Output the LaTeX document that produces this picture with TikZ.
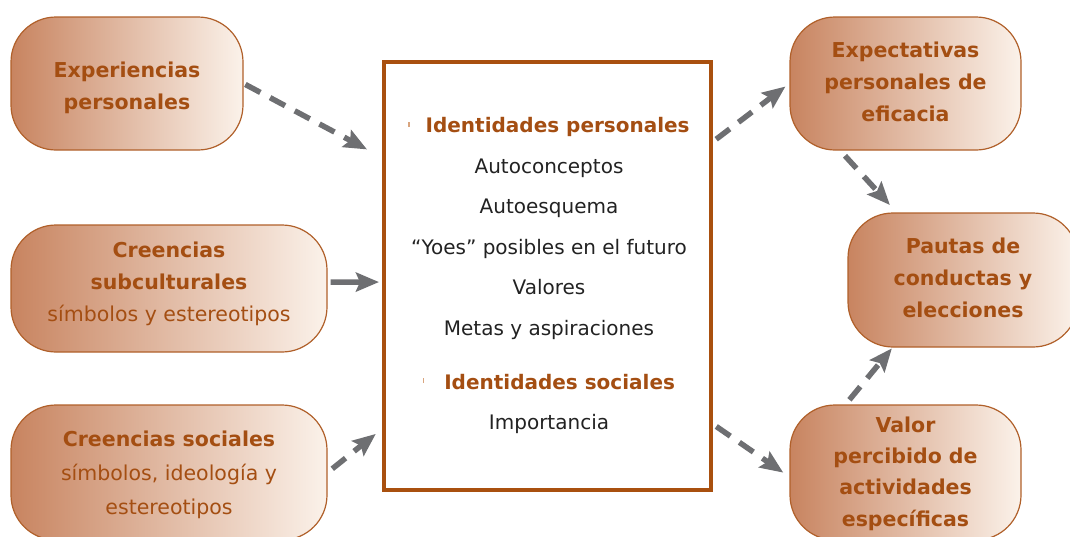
\documentclass[tikz,border=0pt]{standalone}
\usepackage{fontspec}
\setmainfont{DejaVu Sans}
\usetikzlibrary{arrows.meta,calc}
\definecolor{brtext}{HTML}{A44E12}
\definecolor{brframe}{HTML}{A9500F}
\definecolor{brborder}{HTML}{B0602A}
\definecolor{gradL}{HTML}{C88460}
\definecolor{gradR}{HTML}{FBF2EA}
\definecolor{arrowgray}{HTML}{6E6F72}
\definecolor{marklight}{HTML}{D9A57F}
\definecolor{bodytext}{HTML}{222222}
\tikzset{
  caja/.style={draw=brborder, line width=1.2pt, left color=gradL, right color=gradR,
    rounded corners=45pt, inner sep=0pt},
  cajatexto/.style={align=center, inner sep=0pt, text=brtext,
    font=\fontsize{20.5}{32}\selectfont},
  flecha/.style={draw=arrowgray, line width=5.5pt, dash pattern=on 17pt off 11pt,
    -{Stealth[length=23pt,width=19pt,inset=4pt]}},
  flechasolida/.style={draw=arrowgray, line width=5.5pt,
    -{Stealth[length=23pt,width=19pt,inset=4pt]}}
}
\newcommand{\tickmark}{\textcolor{marklight}{\rule[6pt]{1.3pt}{5pt}}}
\begin{document}
\begin{tikzpicture}[x=1pt,y=-1pt]
\useasboundingbox (0,0) rectangle (1070,536);
\clip (0,0) rectangle (1070,536);
% left boxes
\node[caja, minimum width=232pt, minimum height=133pt] (exp) at (127,83.5) {};
\node[cajatexto] (exp-t) at ($(exp.center)+(0,4)$)
  {\textbf{Experiencias}\\\textbf{personales}};
\node[caja, minimum width=316pt, minimum height=127pt] (sub) at (169,288.5) {};
\node[cajatexto] (sub-t) at ($(sub.center)+(0,-4.5)$)
  {\textbf{Creencias}\\\textbf{subculturales}\\símbolos y estereotipos};
\node[caja, minimum width=316pt, minimum height=135pt] (soc) at (169,472.5) {};
\node[cajatexto, font=\fontsize{20.5}{34}\selectfont] (soc-t) at ($(soc.center)+(0,2)$)
  {\textbf{Creencias sociales}\\símbolos, ideología y\\estereotipos};
% central box
\node[draw=brframe, line width=4pt, minimum width=327pt, minimum height=428pt, inner sep=0pt] (centro) at (547.5,276) {};
\node[align=center, font=\fontsize{20}{40.5}\selectfont, text=bodytext, inner sep=0pt] (lista) at (549,275.5)
  {\tickmark\hspace{16pt}\textcolor{brtext}{\textbf{Identidades personales}}\\
   Autoconceptos\\
   Autoesquema\\
   “Yoes” posibles en el futuro\\
   Valores\\
   Metas y aspiraciones\\[13.5pt]
   \tickmark\hspace{20pt}\textcolor{brtext}{\textbf{Identidades sociales}}\\
   Importancia};
% right boxes
\node[caja, minimum width=231pt, minimum height=133pt] (expect) at (905.5,83.5) {};
\node[cajatexto] (expect-t) at ($(expect.center)+(0,-2)$)
  {\textbf{Expectativas}\\\textbf{personales de}\\\textbf{eficacia}};
\node[caja, minimum width=230pt, minimum height=134pt] (pautas) at (963,280) {};
\node[cajatexto] (pautas-t) at ($(pautas.center)+(0,-2)$)
  {\textbf{Pautas de}\\\textbf{conductas y}\\\textbf{elecciones}};
\node[caja, minimum width=231pt, minimum height=135pt] (valor) at (905.5,472.5) {};
\node[cajatexto, font=\fontsize{20.5}{31.3}\selectfont] (valor-t) at ($(valor.center)+(0,1)$)
  {\textbf{Valor}\\\textbf{percibido de}\\\textbf{actividades}\\\textbf{específicas}};
% arrows
\draw[flecha, shorten <=2pt, shorten >=17pt] (exp.east) -- ($(centro.north west)!0.2255!(centro.south west)$);
\draw[flechasolida, shorten <=3pt, shorten >=3pt] ($(sub.north east)!0.45!(sub.south east)$) -- ($(centro.north west)!0.514!(centro.south west)$);
\draw[flecha, shorten <=6pt, shorten >=8pt] (soc.east) -- ($(centro.north west)!0.854!(centro.south west)$);
\draw[flecha, shorten <=4pt, shorten >=5pt] ($(centro.north east)!0.189!(centro.south east)$) -- (expect.west);
\draw[flecha, shorten <=7pt, shorten >=10pt] ($(expect.south west)!0.219!(expect.south east)$) -- ($(pautas.north west)!0.213!(pautas.north east)$);
\draw[flecha, shorten <=4pt, shorten >=7.5pt] ($(centro.north east)!0.843!(centro.south east)$) -- ($(valor.north west)!0.532!(valor.south west)$);
\draw[flecha, shorten <=6pt, shorten >=1pt] ($(valor.north west)!0.242!(valor.north east)$) -- ($(pautas.south west)!0.195!(pautas.south east)$);
\end{tikzpicture}
\end{document}
